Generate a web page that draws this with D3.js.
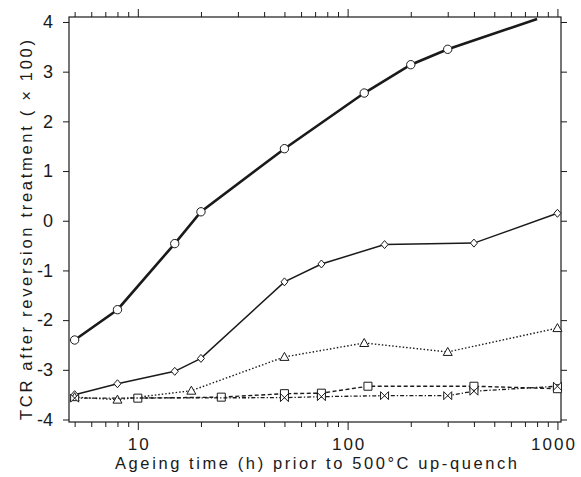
<!DOCTYPE html>
<html>
<head>
<meta charset="utf-8">
<script src="https://cdn.jsdelivr.net/npm/d3@7"></script>
<style>
  body { margin: 0; background: #fff; }
  svg { display: block; font-family: "Liberation Sans", Arial, sans-serif; }
</style>
</head>
<body>
<div id="chart"></div>
<script>
// ageing times (h) and TCR values (x100)
const circleX = [5, 8, 15, 20, 50, 120, 200, 300, 800];
const circleY = [-2.4, -1.79, -0.46, 0.18, 1.45, 2.57, 3.14, 3.45, 4.06];
const diamondX = [5, 8, 15, 20, 50, 75, 150, 400, 1000];
const diamondY = [-3.5, -3.28, -3.03, -2.77, -1.23, -0.87, -0.48, -0.45, 0.15];
const triangleX = [5, 8, 18, 50, 120, 300, 1000];
const triangleY = [-3.55, -3.6, -3.42, -2.74, -2.46, -2.64, -2.16];
const squareX = [10, 25, 50, 75, 125, 400, 1000];
const squareY = [-3.57, -3.55, -3.48, -3.47, -3.33, -3.33, -3.38];
const bowtieX = [5, 50, 75, 150, 300, 400, 1000];
const bowtieY = [-3.57, -3.56, -3.54, -3.52, -3.52, -3.43, -3.33];
const yTicks = [-4, -3, -2, -1, 0, 1, 2, 3, 4];
const xMajor = [10, 100, 1000];

const width = 581, height = 477;
const svg = d3.select("#chart").append("svg")
  .attr("width", width).attr("height", height);

const x = d3.scaleLog().domain([4.7, 1040]).range([69, 561]);
const y = d3.scaleLinear().domain([-4.05, 4.1]).range([422, 17]);

const ink = "#1a1a1a";

// frame
svg.append("rect")
  .attr("x", x.range()[0]).attr("y", y.range()[1])
  .attr("width", x.range()[1] - x.range()[0])
  .attr("height", y.range()[0] - y.range()[1])
  .attr("fill", "none").attr("stroke", ink).attr("stroke-width", 1.2);

// minor ticks on log axis
let minor = [];
[1, 10, 100].forEach(function(dec) {
  for (let k = 2; k <= 9; k++) {
    let v = dec * k;
    if (v >= x.domain()[0] && v <= x.domain()[1]) minor.push(v);
  }
});

const xb = svg.append("g").attr("transform", "translate(0," + y.range()[0] + ")")
  .call(d3.axisBottom(x).tickValues(xMajor).tickSize(8).tickFormat(d3.format("d")));
xb.append("g").call(d3.axisBottom(x).tickValues(minor).tickSize(5).tickFormat(""));

const xt = svg.append("g").attr("transform", "translate(0," + y.range()[1] + ")")
  .call(d3.axisTop(x).tickValues(xMajor).tickSize(8).tickFormat(""));
xt.append("g").call(d3.axisTop(x).tickValues(minor).tickSize(5).tickFormat(""));

const yl = svg.append("g").attr("transform", "translate(" + x.range()[0] + ",0)")
  .call(d3.axisLeft(y).tickValues(yTicks).tickSize(6).tickPadding(10)
    .tickFormat(function(d) { return d < 0 ? "-" + Math.abs(d) : d; }));
const yr = svg.append("g").attr("transform", "translate(" + x.range()[1] + ",0)")
  .call(d3.axisRight(y).tickValues(yTicks).tickSize(6).tickFormat(""));

svg.selectAll(".domain").remove();
svg.selectAll(".tick line").attr("stroke", ink).attr("stroke-width", 1);
svg.selectAll(".tick text").attr("fill", ink).style("font-size", "18px");
xb.selectAll(".tick text")
  .attr("y", 16).attr("dy", "0.71em")
  .attr("dx", function(d) { return d === 1000 ? "-4px" : "1px"; })
  .style("font-size", "17px").style("letter-spacing", "2px");

// axis titles
svg.append("text")
  .attr("x", 316).attr("y", 469)
  .attr("text-anchor", "middle").attr("fill", ink)
  .style("font-size", "16.5px")
  .attr("textLength", 402).attr("lengthAdjust", "spacing")
  .text("Ageing time (h) prior to 500°C up-quench");

svg.append("text")
  .attr("transform", "translate(32," + 230 + ") rotate(-90)")
  .attr("text-anchor", "middle").attr("fill", ink)
  .style("font-size", "16.5px")
  .attr("textLength", 380).attr("lengthAdjust", "spacing")
  .text("TCR after reversion treatment ( × 100)");

const line = d3.line().x(function(d) { return x(d[0]); }).y(function(d) { return y(d[1]); });

function series(xs, ys, opts) {
  let pts = xs.map(function(v, i) { return [v, ys[i]]; });
  svg.append("path").datum(pts)
    .attr("d", line).attr("fill", "none")
    .attr("stroke", ink).attr("stroke-width", opts.width)
    .attr("stroke-dasharray", opts.dash || null);
  let markPts = opts.skipLast ? pts.slice(0, -1) : pts;
  svg.append("g").selectAll("path").data(markPts).enter().append("path")
    .attr("transform", function(d) { return "translate(" + x(d[0]) + "," + y(d[1]) + ")"; })
    .attr("d", opts.shape)
    .attr("fill", "#fff").attr("stroke", ink).attr("stroke-width", 1);
}

const circlePath = d3.symbol().type(d3.symbolCircle).size(55)();
const diamondPath = "M0,-4L3.5,0L0,4L-3.5,0Z";
const trianglePath = "M0,-4.5L4.5,3.5L-4.5,3.5Z";
const squarePath = "M-4,-4H4V4H-4Z";
const bowtiePath = "M-4,-4L4,4V-4L-4,4Z";

series(circleX, circleY, { width: 2.6, shape: circlePath, skipLast: true });
series(diamondX, diamondY, { width: 1.5, shape: diamondPath });
series(triangleX, triangleY, { width: 1.4, dash: "1.5,2", shape: trianglePath });
series(squareX, squareY, { width: 1.4, dash: "4,2.5", shape: squarePath });
series(bowtieX, bowtieY, { width: 1.3, dash: "4,2,1.3,2", shape: bowtiePath });
</script>
</body>
</html>
